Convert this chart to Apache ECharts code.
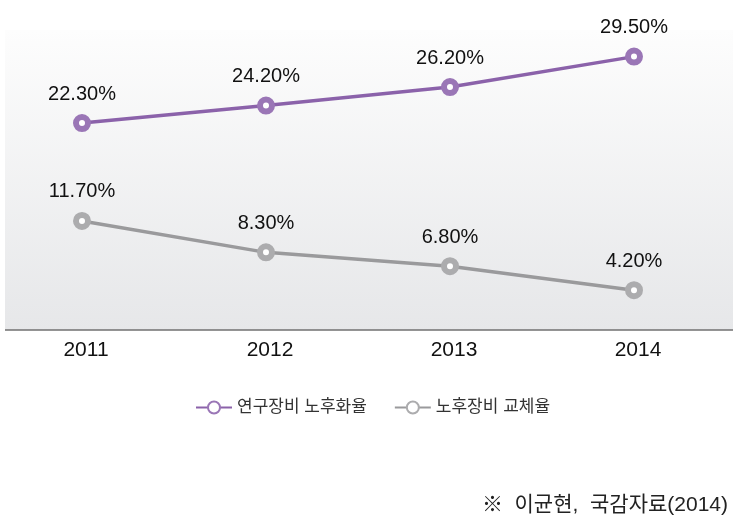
<!DOCTYPE html>
<html><head><meta charset="utf-8">
<script src="https://cdn.jsdelivr.net/npm/echarts@6/dist/echarts.min.js"></script>
<style>html,body{margin:0;padding:0;background:#fff}#c{width:739px;height:524px}</style>
</head><body><div id="c"></div>
<script>
var categories = ['2011', '2012', '2013', '2014'];
var agingRate = [22.3, 24.2, 26.2, 29.5];
var replaceRate = [11.7, 8.3, 6.8, 4.2];
var seriesNames = ['연구장비 노후화율', '노후장비 교체율'];
var sourceNote = '※  이균현,  국감자료(2014)';

var FONT = '"Liberation Sans", "Noto Sans CJK KR", sans-serif';
var chart = echarts.init(document.getElementById('c'));
function fmt(p){ return p.value.toFixed(2) + '%'; }
chart.setOption({
  animation: false,
  graphic: [
    { type: 'rect', z: -10, shape: { x: 5, y: 30, width: 728, height: 300 },
      style: { fill: new echarts.graphic.LinearGradient(0, 0, 0, 1, [
        { offset: 0, color: '#fdfdfd' }, { offset: 1, color: '#e6e7e9' }]) } },
    { type: 'line', z: 5, shape: { x1: 5, y1: 330, x2: 733, y2: 330 },
      style: { stroke: '#707070', lineWidth: 1.5 } },
    { type: 'text', right: 11, top: 495, style: { text: sourceNote, font: '21px ' + FONT, fill: '#222' } }
  ],
  grid: { left: 82, right: 105, top: 52, bottom: 195 },
  xAxis: { type: 'category', data: categories, boundaryGap: false,
    axisLine: { show: false }, axisTick: { show: false },
    axisLabel: { color: '#111', fontSize: 21, fontFamily: FONT, margin: 11, padding: [0, 0, 0, 8] } },
  yAxis: { type: 'value', min: 0, max: 30, show: false, splitLine: { show: false } },
  legend: { top: 394, left: 190, itemWidth: 36, itemHeight: 15, itemGap: 27,
    textStyle: { fontSize: 17, color: '#333', fontFamily: FONT } },
  series: [
    { name: seriesNames[0], type: 'line', data: agingRate, symbol: 'circle', symbolSize: 12,
      lineStyle: { color: '#8b62aa', width: 3.5 },
      itemStyle: { color: '#ffffff', borderColor: '#9a76b6', borderWidth: 6 },
      label: { show: true, position: 'top', distance: 10, formatter: fmt, color: '#111', fontSize: 20, fontFamily: FONT } },
    { name: seriesNames[1], type: 'line', data: replaceRate, symbol: 'circle', symbolSize: 12,
      lineStyle: { color: '#9a9a9c', width: 3.5 },
      itemStyle: { color: '#ffffff', borderColor: '#acacae', borderWidth: 6 },
      label: { show: true, position: 'top', distance: 10, formatter: fmt, color: '#111', fontSize: 20, fontFamily: FONT } }
  ]
});
</script></body></html>
